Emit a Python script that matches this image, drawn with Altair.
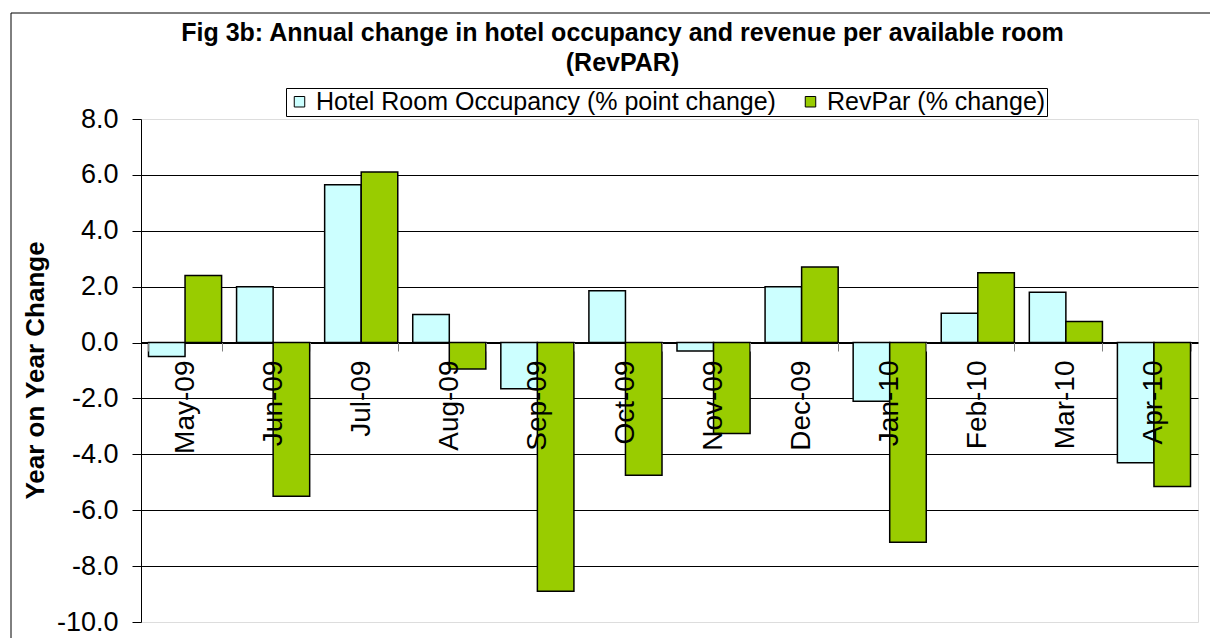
import altair as alt
import pandas as pd

months = ["May-09", "Jun-09", "Jul-09", "Aug-09", "Sep-09", "Oct-09",
          "Nov-09", "Dec-09", "Jan-10", "Feb-10", "Mar-10", "Apr-10"]
occupancy = [-0.5, 2.0, 5.65, 1.0, -1.65, 1.85, -0.3, 2.0, -2.1, 1.05, 1.8, -4.3]
revpar = [2.4, -5.5, 6.1, -0.95, -8.9, -4.75, -3.25, 2.7, -7.15, 2.5, 0.75, -5.15]
series_names = ["Hotel Room Occupancy (% point change)", "RevPar (% change)"]
series_colors = ["#CCFFFF", "#99CC00"]
y_ticks = [-10, -8, -6, -4, -2, 0, 2, 4, 6, 8]
title_lines = ["Fig 3b: Annual change in hotel occupancy and revenue per available room",
               "(RevPAR)"]

rows = []
for m, o, r in zip(months, occupancy, revpar):
    rows.append({"month": m, "series": series_names[0], "value": o, "order": 0})
    rows.append({"month": m, "series": series_names[1], "value": r, "order": 1})
df = pd.DataFrame(rows)

FONT = "Liberation Sans"

bars = alt.Chart(df).mark_bar(stroke="black", strokeWidth=1.5, clip=False).encode(
    x=alt.X("month:N", sort=months,
            scale=alt.Scale(paddingInner=0.17, paddingOuter=0.085),
            axis=alt.Axis(title=None, orient="bottom", offset=-280, zindex=1,
                          labelAngle=270, labelFontSize=28, labelFont=FONT,
                          labelColor="black", labelPadding=9, tickBand="extent",
                          tickSize=9, tickColor="#808080", tickWidth=1,
                          domainColor="black", domainWidth=1, grid=False,
                          labelLimit=0)),
    xOffset=alt.XOffset("series:N", sort=series_names,
                        scale=alt.Scale(paddingInner=0, paddingOuter=0)),
    y=alt.Y("value:Q",
            scale=alt.Scale(domain=[-10, 8], nice=False, zero=False),
            axis=alt.Axis(values=y_ticks,
                          labelExpr="(datum.value < 0 ? '-' : '') + format(abs(datum.value), '.1f')",
                          labelFontSize=27, labelFont=FONT, labelColor="black",
                          labelPadding=14, tickSize=9, tickColor="black",
                          domainColor="black", domainWidth=1,
                          gridColor="black", gridWidth=1,
                          gridOpacity={"condition": {"test": "datum.value == 8 || datum.value == -10", "value": 0}, "value": 1},
                          title="Year on Year Change", titleFontSize=26,
                          titleFont=FONT, titleFontWeight="bold", titleColor="black",
                          titleX=-106, titleY=251, titleAngle=270,
                          titleAlign="center", titleBaseline="middle")),
    color=alt.Color("series:N", sort=series_names,
                    scale=alt.Scale(domain=series_names, range=series_colors),
                    legend=alt.Legend(orient="none", legendX=145, legendY=-31,
                                      direction="horizontal", title=None,
                                      symbolType="square", symbolSize=110,
                                      symbolStrokeColor="black", symbolStrokeWidth=1,
                                      symbolOpacity=1,
                                      labelFontSize=25, labelFont=FONT,
                                      labelColor="black", labelLimit=0,
                                      labelOffset=4, columnPadding=22,
                                      strokeColor="black", fillColor="white",
                                      padding=1)),
    order=alt.Order("order:Q"),
)

frame_data = alt.Data(values=[{"k": 1}])
frame_top = alt.Chart(frame_data).mark_rule(color="black", strokeWidth=1).encode(
    x=alt.value(-130), x2=alt.value(1080), y=alt.value(-106))
frame_left = alt.Chart(frame_data).mark_rule(color="black", strokeWidth=1).encode(
    x=alt.value(-130), y=alt.value(-106), y2=alt.value(560))

chart = alt.layer(bars, frame_top, frame_left).properties(
    width=1057, height=503,
    autosize=alt.AutoSizeParams(type="none"),
    padding={"left": 133, "top": 111, "right": 12, "bottom": 16},
    title=alt.TitleParams(text=title_lines, fontSize=25, font=FONT,
                          fontWeight="bold", color="black", anchor="middle",
                          lineHeight=30, dx=-47, dy=67, frame="group"),
).configure_view(stroke="#808080", strokeWidth=2).configure(background="white")

chart.save("out.html", embed_options={"renderer": "svg", "actions": False})
